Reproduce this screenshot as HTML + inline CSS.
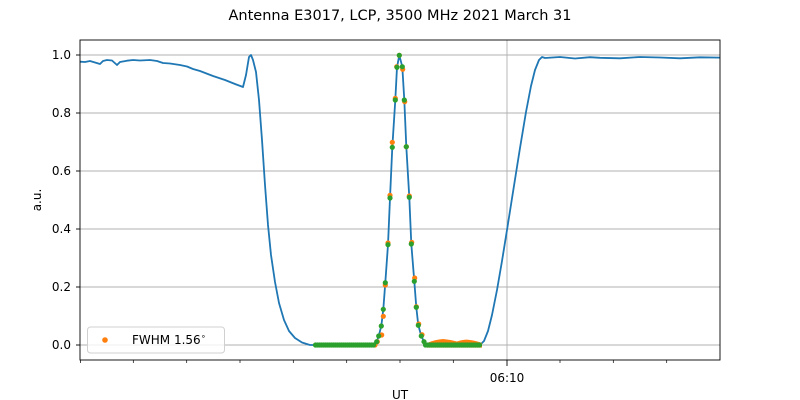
<!DOCTYPE html>
<html><head><meta charset="utf-8"><style>
html,body{margin:0;padding:0;background:#fff;}
svg{display:block;font-family:"DejaVu Sans","Liberation Sans",sans-serif;}
</style></head><body>
<svg width="800" height="400" xmlns="http://www.w3.org/2000/svg">
<rect width="800" height="400" fill="#fff"/>
<text x="400" y="20" text-anchor="middle" font-size="14.5">Antenna E3017, LCP, 3500 MHz 2021 March 31</text>
<g stroke="#b0b0b0" stroke-width="0.9">
<line x1="80" x2="720" y1="345" y2="345"/>
<line x1="80" x2="720" y1="287" y2="287"/>
<line x1="80" x2="720" y1="229" y2="229"/>
<line x1="80" x2="720" y1="171" y2="171"/>
<line x1="80" x2="720" y1="113" y2="113"/>
<line x1="80" x2="720" y1="55" y2="55"/>
<line x1="507" x2="507" y1="40" y2="360"/>
</g>
<polyline fill="none" stroke="#1f77b4" stroke-width="1.8" stroke-linejoin="round" points="80,61.7 85,62 90,61 95,62.5 100,64 103,61 107,60 112,60.5 117,65 120,62 127,60.7 133,60 140,60.5 150,60 157,61 163,63 170,63.5 180,65 187,66.5 193,69 200,71 213,76 225,80 235,84 243,87 246,75 249,57 251,55 253,60 256,72 259,100 262,140 265,185 268,225 271,255 275,282 279,303 284,320 289,331 295,338 302,342.5 310,345 370,345 374,343.5 376.7,341.7 378.7,336 381.3,326 383.3,309.3 385.3,282.7 388,244.7 390,198 392.3,147.3 395.3,100 397,67.3 399.3,55.3 402.3,66.7 404.3,100 406.3,146.7 409.3,197.3 411.3,244 414.3,281.3 416.3,307.3 418.3,325.3 421.3,336 424,341.7 428,345 480,345 484,341 488,331 492,315 497,290 502,261 507,230 513,192 520,148 526,112 531,86 535,70 539,60 542,57 545,58 560,57 575,58.5 590,57.2 600,57.8 620,58.3 640,57 660,57.5 680,58.3 700,57.3 720,57.6"/>
<g fill="#ff7f0e">
<path d="M427,347.6 L427,343 Q435,339.5 443,339 Q451,339.8 457,341.5 Q463,339.5 468,339.7 Q476,340.5 482,343 L482,347.6 Z"/>
<circle cx="377.3" cy="341.7" r="2.6"/><circle cx="381.7" cy="335" r="2.6"/><circle cx="383.3" cy="316.3" r="2.6"/>
<circle cx="385.3" cy="285" r="2.6"/><circle cx="388" cy="243" r="2.6"/><circle cx="390" cy="195.3" r="2.6"/>
<circle cx="392.3" cy="142.3" r="2.6"/><circle cx="395.3" cy="98.3" r="2.6"/><circle cx="396.7" cy="66.7" r="2.6"/>
<circle cx="399.3" cy="55.3" r="2.6"/><circle cx="402.7" cy="69.3" r="2.6"/><circle cx="404.7" cy="101.7" r="2.6"/>
<circle cx="406.3" cy="146.7" r="2.6"/><circle cx="409.3" cy="196" r="2.6"/><circle cx="411.7" cy="242.3" r="2.6"/>
<circle cx="414.7" cy="278" r="2.6"/><circle cx="416.3" cy="306.7" r="2.6"/><circle cx="418.7" cy="324" r="2.6"/>
<circle cx="422" cy="334.7" r="2.6"/><circle cx="375" cy="345" r="2.6"/>
</g>
<g stroke="#2ca02c" stroke-width="5.2" stroke-linecap="round" stroke-dasharray="0 2" fill="none">
<line x1="315.5" y1="345" x2="375.5" y2="345"/>
<line x1="425.5" y1="345" x2="481.5" y2="345"/>
</g>
<g fill="#2ca02c">
<circle cx="376.7" cy="341.7" r="2.6"/><circle cx="378.7" cy="336" r="2.6"/><circle cx="381.3" cy="326" r="2.6"/>
<circle cx="383.3" cy="309.3" r="2.6"/><circle cx="385.3" cy="282.7" r="2.6"/><circle cx="388" cy="244.7" r="2.6"/>
<circle cx="390" cy="198" r="2.6"/><circle cx="392.3" cy="147.3" r="2.6"/><circle cx="395.3" cy="100" r="2.6"/>
<circle cx="397" cy="67.3" r="2.6"/><circle cx="399.3" cy="55.3" r="2.6"/><circle cx="402.3" cy="66.7" r="2.6"/>
<circle cx="404.3" cy="100" r="2.6"/><circle cx="406.3" cy="146.7" r="2.6"/><circle cx="409.3" cy="197.3" r="2.6"/>
<circle cx="411.3" cy="244" r="2.6"/><circle cx="414.3" cy="281.3" r="2.6"/><circle cx="416.3" cy="307.3" r="2.6"/>
<circle cx="418.3" cy="325.3" r="2.6"/><circle cx="421.3" cy="336" r="2.6"/><circle cx="424" cy="341.7" r="2.6"/>
</g>
<rect x="80" y="40" width="640" height="320" fill="none" stroke="#000" stroke-width="0.9"/>
<g font-size="12" text-anchor="end">
<text x="71" y="349">0.0</text><text x="71" y="291">0.2</text><text x="71" y="233">0.4</text>
<text x="71" y="175">0.6</text><text x="71" y="117">0.8</text><text x="71" y="59">1.0</text>
</g>
<g stroke="#000" stroke-width="0.9">
<line x1="76" x2="80" y1="345" y2="345"/><line x1="76" x2="80" y1="287" y2="287"/><line x1="76" x2="80" y1="229" y2="229"/>
<line x1="76" x2="80" y1="171" y2="171"/><line x1="76" x2="80" y1="113" y2="113"/><line x1="76" x2="80" y1="55" y2="55"/>
<line x1="507" x2="507" y1="360" y2="366"/>
</g>
<g stroke="#000" stroke-width="0.7">
<line x1="80.5" x2="80.5" y1="360" y2="363"/><line x1="133.3" x2="133.3" y1="360" y2="363"/><line x1="186.7" x2="186.7" y1="360" y2="363"/>
<line x1="240" x2="240" y1="360" y2="363"/><line x1="293.3" x2="293.3" y1="360" y2="363"/><line x1="346.7" x2="346.7" y1="360" y2="363"/>
<line x1="400" x2="400" y1="360" y2="363"/><line x1="453.3" x2="453.3" y1="360" y2="363"/><line x1="560" x2="560" y1="360" y2="363"/>
<line x1="613.3" x2="613.3" y1="360" y2="363"/><line x1="666.7" x2="666.7" y1="360" y2="363"/>
</g>
<text x="507" y="382" text-anchor="middle" font-size="12">06:10</text>
<text x="400" y="399" text-anchor="middle" font-size="12">UT</text>
<text x="41" y="200" text-anchor="middle" font-size="12" transform="rotate(-90 41 200)">a.u.</text>
<rect x="87.5" y="327" width="137" height="26" rx="3" fill="#fff" fill-opacity="0.8" stroke="#d0d0d0"/>
<circle cx="105" cy="340" r="2.8" fill="#ff7f0e"/>
<text x="132" y="344" font-size="12">FWHM 1.56<tspan dy="-5" font-size="8">∘</tspan></text>
</svg>
</body></html>
